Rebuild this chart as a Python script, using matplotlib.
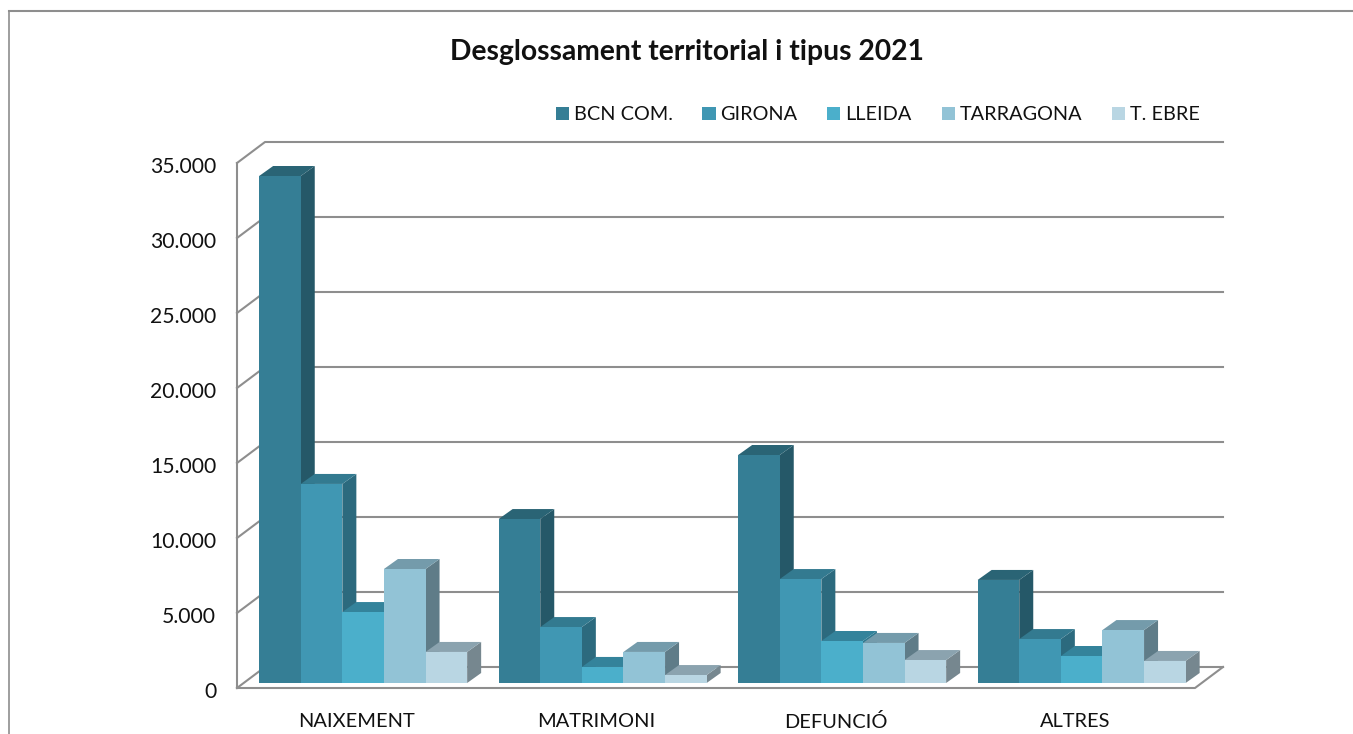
import matplotlib
matplotlib.use("Agg")
import matplotlib.pyplot as plt
from matplotlib.lines import Line2D
from matplotlib.patches import Polygon
from matplotlib.ticker import FuncFormatter
from matplotlib.transforms import ScaledTranslation

plt.rcParams["font.family"] = ["Lato", "DejaVu Sans"]

# Dades
categories = ["NAIXEMENT", "MATRIMONI", "DEFUNCIÓ", "ALTRES"]
series_names = ["BCN COM.", "GIRONA", "LLEIDA", "TARRAGONA", "T. EBRE"]
bcn = [33800, 10930, 15200, 6870]
girona = [13270, 3730, 6930, 2930]
lleida = [4730, 1070, 2800, 1800]
tarragona = [7600, 2070, 2670, 3530]
ebre = [2070, 530, 1530, 1470]
series_values = [bcn, girona, lleida, tarragona, ebre]
y_ticks = [0, 5000, 10000, 15000, 20000, 25000, 30000, 35000]

# Colors: cara frontal, superior i lateral
front_colors = ["#357E95", "#4097B3", "#4BAFCB", "#92C3D6", "#B9D6E3"]
top_colors = ["#2A6475", "#337A90", "#34839B", "#749BAB", "#8BA3AF"]
side_colors = ["#255868", "#2C6A7E", "#2F788E", "#5F7C88", "#76878F"]
LINE = "#8E8E8E"

W, H = 1353, 734
fig = plt.figure(figsize=(W / 100, H / 100), dpi=100, facecolor="white")
ax = fig.add_axes([237 / W, (H - 688) / H, 958 / W, 525 / H])
ax.set_xlim(-0.5, 3.5)
ax.set_ylim(0, 35000)
ax.patch.set_visible(False)
for s in ax.spines.values():
    s.set_visible(False)

# Profunditat 3D en unitats de dades
px_x = 4 / 958
px_y = 35000 / 525
wall_dx, wall_dy = 28 * px_x, 21 * px_y
bar_dx, bar_dy = 14 * px_x, 10 * px_y
base_dx, base_dy = 6.4 * px_x, 5 * px_y
bar_w = 41.6 * px_x


def wall_line(xs, ys):
    ax.add_line(Line2D(xs, ys, color=LINE, lw=1.5, clip_on=False, zorder=1,
                       solid_capstyle="projecting"))


# Parets i línies de graella
for v in y_ticks:
    wall_line([-0.5, -0.5 + wall_dx, 3.5 + wall_dx],
              [v, v + wall_dy, v + wall_dy])
wall_line([-0.5, -0.5], [0, 35000])
wall_line([-0.5, 3.5, 3.5 + wall_dx], [0, 0, wall_dy])

# Barres
handles = []
order = 2
for i, name in enumerate(series_names):
    vals = series_values[i]
    xs = [c - 2.5 * bar_w + (i + 0.5) * bar_w + base_dx for c in range(len(categories))]
    for x, v in zip(xs, vals):
        left, right = x - bar_w / 2, x + bar_w / 2
        bottom, top = base_dy, base_dy + v
        ax.add_patch(Polygon([(right, bottom), (right + bar_dx, bottom + bar_dy),
                              (right + bar_dx, top + bar_dy), (right, top)],
                             fc=side_colors[i], ec="none", clip_on=False, zorder=order))
        ax.add_patch(Polygon([(left, top), (right, top), (right + bar_dx, top + bar_dy),
                              (left + bar_dx, top + bar_dy)],
                             fc=top_colors[i], ec="none", clip_on=False, zorder=order))
        order += 1
    bars = ax.bar(xs, vals, bar_w, bottom=base_dy, color=front_colors[i],
                  label=name, clip_on=False, zorder=order)
    order += 1
    handles.append(bars)
ax.set_xlim(-0.5, 3.5)
ax.set_ylim(0, 35000)

# Eixos
ax.set_xticks(range(len(categories)))
ax.set_xticklabels(categories, fontsize=14.4, color="#111111")
ax.set_yticks(y_ticks)
ax.yaxis.set_major_formatter(FuncFormatter(lambda v, p: f"{int(v):,}".replace(",", ".")))
ax.tick_params(axis="y", length=0, pad=15, labelsize=15.2, labelcolor="#111111")
ax.tick_params(axis="x", length=0, pad=18)
y_shift = ScaledTranslation(0, -0.02, fig.dpi_scale_trans)
for lab in ax.get_yticklabels():
    lab.set_transform(lab.get_transform() + y_shift)

# Títol i llegenda
fig.text(686.5 / W, 1 - 52 / H, "Desglossament territorial i tipus 2021",
         ha="center", va="center", fontsize=20.3, fontweight="bold", color="#111111")
fig.legend(handles, series_names, ncol=5, frameon=False, fontsize=14.3,
           loc="center right", bbox_to_anchor=(1210 / W, 1 - 115 / H),
           handlelength=0.66, handleheight=0.66, handletextpad=0.25,
           columnspacing=1.5, borderpad=0, labelcolor="#111111")

# Marc del gràfic
fig.add_artist(Line2D([9 / W, 1], [1 - 11 / H, 1 - 11 / H], color=LINE, lw=1.5))
fig.add_artist(Line2D([9 / W, 9 / W], [0, 1 - 11 / H], color=LINE, lw=1.2))

fig.savefig("out.png", dpi=100)
